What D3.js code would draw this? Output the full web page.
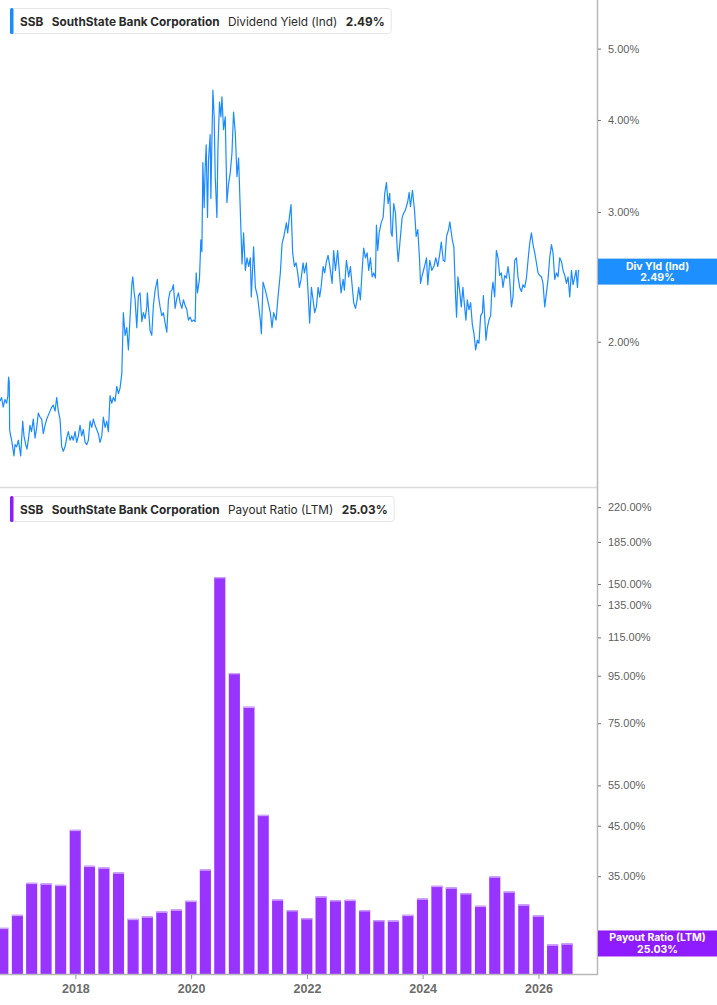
<!DOCTYPE html>
<html>
<head>
<meta charset="utf-8">
<script src="https://cdn.jsdelivr.net/npm/d3@7"></script>
<style>
  body { margin: 0; background: #fff; }
  svg { display: block; font-family: Inter, "Noto Sans", sans-serif; }
</style>
</head>
<body>
<script>
// dividend yield (%), sampled off the chart; dates as decimal years
const yieldDates = [
  2016.696,2016.725,2016.753,2016.783,2016.812,2016.834,2016.840,2016.847,2016.857,2016.864,
  2016.874,2016.898,2016.921,2016.938,2016.956,2016.985,2017.013,2017.033,2017.054,2017.089,
  2017.111,2017.141,2017.163,2017.186,2017.215,2017.241,2017.272,2017.302,2017.331,2017.359,
  2017.388,2017.417,2017.445,2017.475,2017.504,2017.532,2017.561,2017.590,2017.618,2017.648,
  2017.677,2017.705,2017.734,2017.763,2017.791,2017.821,2017.850,2017.878,2017.907,2017.936,
  2017.964,2017.994,2018.023,2018.051,2018.080,2018.109,2018.137,2018.167,2018.196,2018.224,
  2018.253,2018.283,2018.310,2018.340,2018.369,2018.397,2018.426,2018.456,2018.483,2018.513,
  2018.542,2018.570,2018.599,2018.629,2018.656,2018.686,2018.715,2018.743,2018.772,2018.802,
  2018.829,2018.859,2018.888,2018.916,2018.945,2018.975,2018.992,2019.014,2019.032,2019.061,
  2019.089,2019.118,2019.148,2019.175,2019.205,2019.234,2019.244,2019.291,2019.320,2019.348,
  2019.378,2019.417,2019.435,2019.464,2019.493,2019.521,2019.551,2019.580,2019.608,2019.637,
  2019.667,2019.694,2019.724,2019.753,2019.781,2019.810,2019.840,2019.867,2019.897,2019.926,
  2019.954,2019.983,2020.013,2020.040,2020.070,2020.087,2020.110,2020.144,2020.168,2020.186,
  2020.203,2020.225,2020.243,2020.260,2020.283,2020.300,2020.329,2020.341,2020.359,2020.376,
  2020.398,2020.416,2020.445,2020.462,2020.490,2020.514,2020.532,2020.559,2020.589,2020.618,
  2020.646,2020.675,2020.705,2020.732,2020.762,2020.791,2020.819,2020.848,2020.878,2020.905,
  2020.935,2020.964,2020.992,2021.021,2021.038,2021.078,2021.108,2021.147,2021.194,2021.212,
  2021.241,2021.281,2021.320,2021.367,2021.396,2021.424,2021.466,2021.500,2021.540,2021.570,
  2021.597,2021.644,2021.667,2021.696,2021.725,2021.753,2021.783,2021.812,2021.840,2021.869,
  2021.898,2021.933,2021.956,2021.990,2022.020,2022.047,2022.077,2022.106,2022.134,2022.163,
  2022.193,2022.220,2022.244,2022.279,2022.307,2022.336,2022.365,2022.393,2022.405,2022.435,
  2022.462,2022.492,2022.531,2022.566,2022.590,2022.625,2022.647,2022.682,2022.722,2022.751,
  2022.780,2022.808,2022.838,2022.867,2022.895,2022.924,2022.954,2022.981,2023.011,2023.040,
  2023.068,2023.097,2023.127,2023.154,2023.184,2023.201,2023.224,2023.248,2023.283,2023.317,
  2023.345,2023.374,2023.403,2023.431,2023.455,2023.473,2023.500,2023.530,2023.559,2023.577,
  2023.604,2023.646,2023.674,2023.703,2023.743,2023.767,2023.789,2023.824,2023.859,2023.888,
  2023.916,2023.945,2023.963,2023.992,2024.032,2024.066,2024.089,2024.123,2024.158,2024.193,
  2024.227,2024.262,2024.297,2024.321,2024.355,2024.383,2024.412,2024.447,2024.469,2024.511,
  2024.538,2024.568,2024.585,2024.608,2024.637,2024.666,2024.694,2024.724,2024.746,2024.770,
  2024.798,2024.827,2024.857,2024.885,2024.914,2024.943,2024.971,2025.000,2025.030,2025.047,
  2025.070,2025.092,2025.116,2025.144,2025.173,2025.191,2025.213,2025.243,2025.272,2025.300,
  2025.329,2025.358,2025.386,2025.416,2025.445,2025.473,2025.502,2025.532,2025.559,2025.589,
  2025.618,2025.646,2025.675,2025.705,2025.732,2025.762,2025.791,2025.819,2025.848,2025.878,
  2025.905,2025.935,2025.964,2025.992,2026.021,2026.051,2026.078,2026.108,2026.137,2026.165,
  2026.194,2026.224,2026.251,2026.281,2026.310,2026.338,2026.367,2026.397,2026.424,2026.454,
  2026.483,2026.511,2026.540,2026.570,2026.597,2026.627,2026.649,2026.674,2026.691,2026.701
];
const yieldValues = [
  1.66,1.68,1.63,1.67,1.65,1.69,1.76,1.79,1.76,1.52,
  1.50,1.47,1.43,1.40,1.45,1.44,1.47,1.44,1.40,1.56,
  1.49,1.45,1.43,1.47,1.54,1.51,1.57,1.48,1.53,1.60,
  1.58,1.57,1.50,1.54,1.57,1.59,1.61,1.63,1.64,1.61,
  1.68,1.61,1.57,1.44,1.42,1.44,1.48,1.51,1.47,1.49,
  1.47,1.51,1.46,1.49,1.54,1.49,1.52,1.46,1.45,1.47,
  1.56,1.53,1.57,1.54,1.52,1.50,1.46,1.49,1.58,1.53,
  1.56,1.51,1.69,1.65,1.68,1.66,1.74,1.70,1.73,1.81,
  2.19,2.04,2.09,1.95,2.16,2.39,2.45,2.34,2.28,2.09,
  2.31,2.33,2.13,2.19,2.15,2.23,2.33,2.07,2.04,2.24,
  2.35,2.43,2.31,2.23,2.17,2.19,2.12,2.06,2.28,2.34,
  2.35,2.39,2.22,2.29,2.33,2.26,2.22,2.28,2.24,2.21,
  2.14,2.16,2.13,2.14,2.13,2.48,2.33,2.43,2.75,2.65,
  3.50,3.04,3.45,3.70,2.95,3.53,3.82,3.13,3.76,4.39,
  4.04,3.35,2.95,3.64,4.23,4.04,4.30,3.88,4.04,3.09,
  3.28,3.39,3.61,4.10,3.84,3.35,3.55,3.02,2.55,2.81,
  2.50,2.60,2.53,2.60,2.30,2.69,2.37,2.30,2.14,2.05,
  2.41,2.35,2.28,2.19,2.09,2.19,2.14,2.30,2.48,2.72,
  2.77,2.90,2.81,2.95,3.07,2.64,2.53,2.56,2.48,2.37,
  2.43,2.56,2.48,2.56,2.33,2.12,2.37,2.28,2.19,2.23,
  2.37,2.30,2.37,2.53,2.48,2.57,2.62,2.54,2.50,2.40,
  2.66,2.50,2.66,2.45,2.33,2.43,2.35,2.58,2.45,2.53,
  2.39,2.26,2.22,2.28,2.37,2.28,2.50,2.68,2.60,2.64,
  2.50,2.60,2.45,2.48,2.44,2.88,2.66,2.81,2.90,2.95,
  3.18,3.29,3.08,3.18,2.81,2.78,3.08,2.99,2.69,2.57,
  2.71,2.95,2.99,3.02,3.10,3.19,3.05,3.21,3.02,2.78,
  2.84,2.60,2.40,2.46,2.53,2.60,2.39,2.58,2.50,2.53,
  2.60,2.53,2.64,2.73,2.58,2.57,2.78,2.84,2.91,2.75,
  2.69,2.30,2.16,2.45,2.35,2.23,2.37,2.23,2.14,2.28,
  2.21,2.26,2.11,2.05,1.95,2.01,1.99,2.17,2.19,2.31,
  2.16,2.01,2.09,2.14,2.17,2.33,2.41,2.30,2.66,2.60,
  2.46,2.48,2.37,2.46,2.44,2.53,2.43,2.23,2.30,2.58,
  2.60,2.45,2.37,2.34,2.39,2.37,2.44,2.58,2.72,2.81,
  2.71,2.64,2.56,2.48,2.46,2.45,2.40,2.23,2.33,2.43,
  2.60,2.71,2.64,2.43,2.48,2.45,2.60,2.57,2.50,2.46,
  2.40,2.45,2.30,2.50,2.39,2.45,2.50,2.37,2.50,2.49
];

// payout ratio (LTM, %) by quarter end
const payoutDates = [
  "2016-09-30","2016-12-31","2017-03-31","2017-06-30","2017-09-30","2017-12-31",
  "2018-03-31","2018-06-30","2018-09-30","2018-12-31","2019-03-31","2019-06-30",
  "2019-09-30","2019-12-31","2020-03-31","2020-06-30","2020-09-30","2020-12-31",
  "2021-03-31","2021-06-30","2021-09-30","2021-12-31","2022-03-31","2022-06-30",
  "2022-09-30","2022-12-31","2023-03-31","2023-06-30","2023-09-30","2023-12-31",
  "2024-03-31","2024-06-30","2024-09-30","2024-12-31","2025-03-31","2025-06-30",
  "2025-09-30","2025-12-31","2026-03-31","2026-06-30"
];
const payoutValues = [
  27.06,28.87,33.86,33.74,33.52,44.09,36.86,36.54,35.64,28.30,
  28.63,29.35,29.64,30.96,36.18,155.3,96.3,81.4,47.5,31.16,
  29.54,28.39,31.63,31.05,31.11,29.54,28.11,28.06,28.87,31.31,
  33.36,33.08,32.15,30.20,34.94,32.42,30.39,28.77,24.90,25.03
];

const yieldTicks = [2, 3, 4, 5];
const payoutTicks = [25, 35, 45, 55, 75, 95, 115, 135, 150, 185, 220];
const yearTicks = [2018, 2020, 2022, 2024, 2026];

const lastYield = 2.49, lastPayout = 25.03;

const width = 717, height = 1005;
const axisX = 597;
const topBottom = 487, botTop = 488, botBottom = 974;

const blue = "#1a8cff", purple = "#9933ff";

function decYear(v) {
  const yr = Math.floor(v);
  const a = new Date(yr, 0, 1), b = new Date(yr + 1, 0, 1);
  return new Date(+a + (v - yr) * (b - a));
}
const parseDay = d3.timeParse("%Y-%m-%d");

const yieldData = yieldDates.map((d, i) => ({ date: decYear(d), v: yieldValues[i] }));
const payoutData = payoutDates.map((d, i) => ({ date: parseDay(d), v: payoutValues[i] }));

// x: 2018 tick at 75.4px, 2026 tick at 538.5px
const xRef = d3.scaleTime()
  .domain([new Date(2018, 0, 1), new Date(2026, 0, 1)])
  .range([75.4, 538.5]);
const x = d3.scaleTime()
  .domain([xRef.invert(0), xRef.invert(axisX)])
  .range([0, axisX]);

const yTop = d3.scaleLog().domain([1.27, 5.82]).range([topBottom, 0]);
const yBot = d3.scaleLog().domain([21.5, 242]).range([botBottom, botTop]);

const svg = d3.select("body").append("svg")
  .attr("width", width)
  .attr("height", height);

svg.append("rect").attr("width", width).attr("height", height).attr("fill", "#fff");

svg.append("clipPath").attr("id", "clipTop")
  .append("rect").attr("x", 0).attr("y", 0).attr("width", axisX).attr("height", topBottom);

// pane separator
svg.append("line")
  .attr("x1", 0).attr("x2", axisX)
  .attr("y1", topBottom + 0.5).attr("y2", topBottom + 0.5)
  .attr("stroke", "#dcdcdc").attr("stroke-width", 1.5);

// yield line
svg.append("path")
  .datum(yieldData)
  .attr("clip-path", "url(#clipTop)")
  .attr("fill", "none")
  .attr("stroke", blue)
  .attr("stroke-width", 1.2)
  .attr("stroke-linejoin", "round")
  .attr("d", d3.line().x(d => x(d.date)).y(d => yTop(d.v)));

// payout bars
const barW = 11.1;
const bars = svg.append("g");
bars.selectAll("rect.bar")
  .data(payoutData)
  .enter().append("rect")
  .attr("class", "bar")
  .attr("x", d => x(d.date) - barW / 2)
  .attr("width", barW)
  .attr("y", d => yBot(d.v))
  .attr("height", d => botBottom - yBot(d.v))
  .attr("fill", purple);
bars.selectAll("rect.cap")
  .data(payoutData)
  .enter().append("rect")
  .attr("class", "cap")
  .attr("x", d => x(d.date) - barW / 2)
  .attr("width", barW)
  .attr("y", d => yBot(d.v))
  .attr("height", 1.3)
  .attr("fill", "#cda4ff");

// axis lines
svg.append("line")
  .attr("x1", axisX + 0.5).attr("x2", axisX + 0.5)
  .attr("y1", 0).attr("y2", botBottom + 1)
  .attr("stroke", "#b8b8b8").attr("stroke-width", 1.5);
svg.append("line")
  .attr("x1", 0).attr("x2", axisX + 1)
  .attr("y1", botBottom + 0.5).attr("y2", botBottom + 0.5)
  .attr("stroke", "#b8b8b8").attr("stroke-width", 1.5);

const pct = d => d3.format(".2f")(d) + "%";

function styleRight(g) {
  g.select(".domain").remove();
  g.selectAll(".tick line").attr("stroke", "#777").attr("stroke-width", 1);
  g.selectAll(".tick text")
    .attr("fill", "#5f5f5f")
    .style("font-size", "11px");
}

svg.append("g")
  .attr("transform", "translate(" + (axisX + 1) + ",0)")
  .call(d3.axisRight(yTop).tickValues(yieldTicks).tickFormat(pct).tickSize(3).tickPadding(7))
  .call(styleRight);

svg.append("g")
  .attr("transform", "translate(" + (axisX + 1) + ",0)")
  .call(d3.axisRight(yBot).tickValues(payoutTicks).tickFormat(pct).tickSize(3).tickPadding(7))
  .call(styleRight);

// x axis
const xAxis = svg.append("g")
  .attr("transform", "translate(0," + (botBottom + 1) + ")")
  .call(d3.axisBottom(x)
    .tickValues(yearTicks.map(y => new Date(y, 0, 1)))
    .tickFormat(d3.timeFormat("%Y"))
    .tickSize(4).tickPadding(5));
xAxis.select(".domain").remove();
xAxis.selectAll(".tick line").attr("stroke", "#999");
xAxis.selectAll(".tick text")
  .attr("fill", "#6b6b6b")
  .style("font-size", "12.5px")
  .style("font-weight", "700");

// last value tags
function valueTag(cy, color, line1, line2) {
  const g = svg.append("g");
  g.append("rect")
    .attr("x", axisX + 1).attr("y", cy - 13)
    .attr("width", width - axisX).attr("height", 26)
    .attr("fill", color);
  const cx = axisX + 1 + (width - axisX - 1) / 2;
  g.append("text").attr("x", cx).attr("y", cy - 2)
    .attr("text-anchor", "middle").attr("fill", "#fff")
    .style("font-size", "10.5px").style("font-weight", "700")
    .text(line1);
  g.append("text").attr("x", cx).attr("y", cy + 9.5)
    .attr("text-anchor", "middle").attr("fill", "#fff")
    .style("font-size", "10.5px").style("font-weight", "700")
    .text(line2);
}
valueTag(yTop(lastYield), "#1e8fff", "Div Yld (Ind)", pct(lastYield));
valueTag(yBot(lastPayout), "#8f1cff", "Payout Ratio (LTM)", pct(lastPayout));

// legends: parts laid out one after the other
function legend(y0, color, metric, value) {
  const g = svg.append("g");
  const box = g.append("rect")
    .attr("x", 10.5).attr("y", y0 + 0.5)
    .attr("height", 25)
    .attr("rx", 3)
    .attr("fill", "#fff").attr("stroke", "#e6e6e6");
  g.append("rect")
    .attr("x", 10).attr("y", y0)
    .attr("width", 3.5).attr("height", 26)
    .attr("rx", 1.5)
    .attr("fill", color);
  const parts = [
    { t: "SSB", w: 700 },
    { t: "SouthState Bank Corporation", w: 700 },
    { t: metric, w: 400 },
    { t: value, w: 700 }
  ];
  let cx = 20;
  parts.forEach(p => {
    const t = g.append("text")
      .attr("x", cx).attr("y", y0 + 17.5)
      .attr("fill", "#2b2b2b")
      .style("font-size", "11.8px")
      .style("font-weight", p.w)
      .text(p.t);
    cx += t.node().getComputedTextLength() + 8.5;
  });
  box.attr("width", cx - 8.5 + 6 - 10);
}
legend(8, blue, "Dividend Yield (Ind)", pct(lastYield));
legend(496, "#8f1cff", "Payout Ratio (LTM)", pct(lastPayout));
</script>
</body>
</html>
